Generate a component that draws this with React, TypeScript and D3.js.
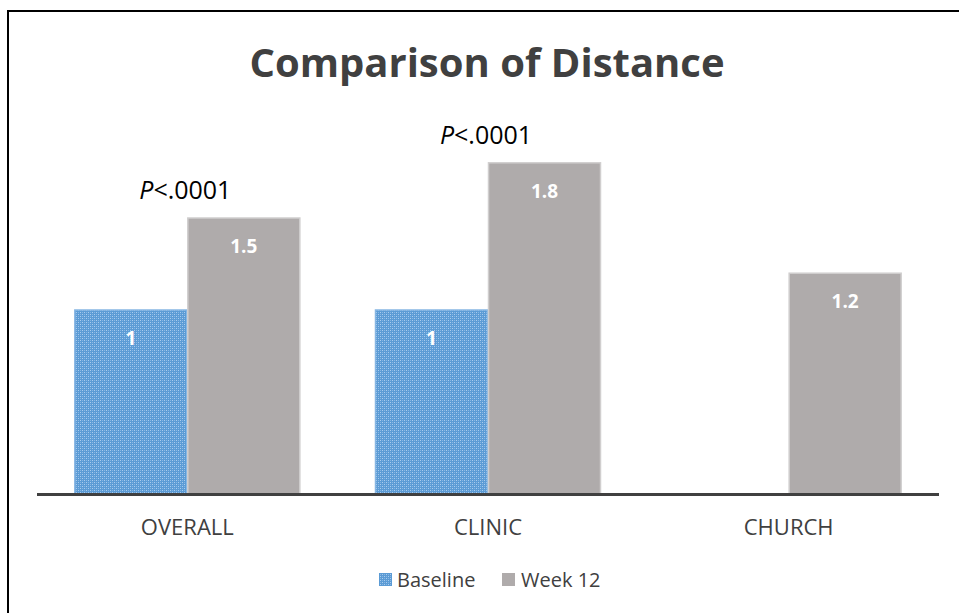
import React from "react";
import * as d3 from "d3";

const categories = ["OVERALL", "CLINIC", "CHURCH"];
const baseline: (number | null)[] = [1, 1, null];
const week12: (number | null)[] = [1.5, 1.8, 1.2];
const seriesNames = ["Baseline", "Week 12"];
const pLabels: (string | null)[] = ["<.0001", "<.0001", null];

const W = 959;
const H = 613;
const FONT = "'Open Sans', sans-serif";

export default function App() {
  const x = d3.scaleBand<string>().domain(categories).range([37, 939]).paddingInner(0).paddingOuter(0);
  const y = d3.scaleLinear().domain([0, 1]).range([494, 310]);
  const bw = 113;
  const series = [baseline, week12];
  return (
    <svg width={W} height={H} style={{ position: "absolute", left: 0, top: 0, background: "#fff" }}>
      <defs>
        <pattern id="bp" width="4" height="4" patternUnits="userSpaceOnUse">
          <rect width="4" height="4" fill="#5B9BD5" />
          <rect x="0" y="0" width="1" height="1" fill="#A9CCEE" />
          <rect x="2" y="2" width="1" height="1" fill="#A9CCEE" />
          <rect x="2" y="0" width="1" height="1" fill="#86B6E3" />
          <rect x="0" y="2" width="1" height="1" fill="#86B6E3" />
        </pattern>
      </defs>
      <rect x={0} y={0} width={W} height={H} fill="#fff" />
      <line x1={8} y1={11} x2={W} y2={11} stroke="#000" strokeWidth={2} />
      <line x1={8} y1={10} x2={8} y2={H} stroke="#000" strokeWidth={2} />
      <text x={487} y={77} textAnchor="middle" fontFamily={FONT} fontWeight="bold" fontSize={40} fill="#404040">
        Comparison of Distance
      </text>
      {categories.map((c, i) => {
        const cx = (x(c) as number) + x.bandwidth() / 2;
        return (
          <g key={c}>
            {series.map((s, si) => {
              const v = s[i];
              if (v == null) return null;
              const bx = si === 0 ? cx - bw : cx;
              const top = y(v);
              return (
                <g key={si}>
                  <rect
                    x={bx + 0.5}
                    y={top}
                    width={bw - 1}
                    height={y(0) - top}
                    fill={si === 0 ? "url(#bp)" : "#AFABAB"}
                    stroke={si === 0 ? "#86B6E3" : "#D0CECE"}
                    strokeWidth={1.5}
                  />
                  <text x={bx + bw / 2} y={top + 35} textAnchor="middle" fontFamily={FONT} fontWeight="bold" fontSize={19} fill="#fff">
                    {String(v)}
                  </text>
                </g>
              );
            })}
            {pLabels[i] && (
              <text x={cx - 2} y={y(Math.max(baseline[i] ?? 0, week12[i] ?? 0)) - 19} textAnchor="middle" fontFamily={FONT} fontSize={25} fill="#000">
                <tspan fontStyle="italic">P</tspan>
                {pLabels[i]}
              </text>
            )}
            <text x={cx} y={535} textAnchor="middle" fontFamily={FONT} fontSize={22} fill="#404040">
              {c}
            </text>
          </g>
        );
      })}
      <line x1={37} y1={494.5} x2={939} y2={494.5} stroke="#404040" strokeWidth={3} />
      <g>
        <rect x={379} y={573} width={13} height={13} fill="url(#bp)" />
        <text x={397} y={587} fontFamily={FONT} fontSize={20} fill="#404040">{seriesNames[0]}</text>
        <rect x={502} y={573} width={13} height={13} fill="#AFABAB" />
        <text x={521} y={587} fontFamily={FONT} fontSize={20} fill="#404040">{seriesNames[1]}</text>
      </g>
    </svg>
  );
}
